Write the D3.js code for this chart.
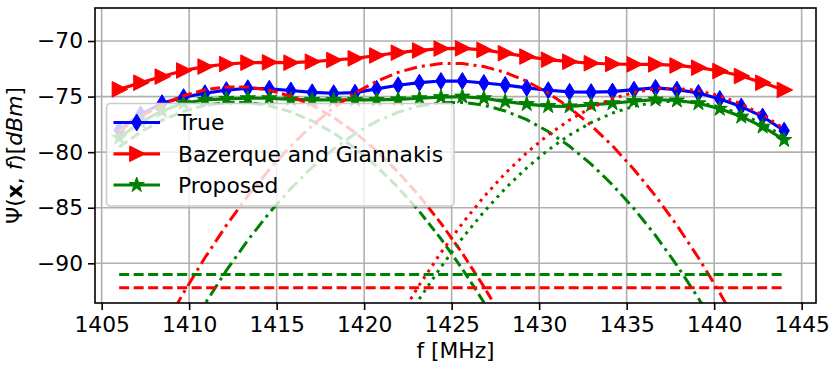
<!DOCTYPE html>
<html><head><meta charset="utf-8">
<script src="https://cdn.jsdelivr.net/npm/d3@7"></script>
<style>
html,body{margin:0;padding:0;background:#fff;}
svg{display:block;font-family:"DejaVu Sans",sans-serif;}
</style></head>
<body><svg id="chart" width="830" height="366"></svg>
<script>
// ---------- data ----------
const freq = [1406.00,1407.23,1408.45,1409.68,1410.90,1412.13,1413.35,1414.58,1415.81,1417.03,1418.26,1419.48,1420.71,1421.94,1423.16,1424.39,1425.61,1426.84,1428.06,1429.29,1430.52,1431.74,1432.97,1434.19,1435.42,1436.65,1437.87,1439.10,1440.32,1441.55,1442.77,1444.00];
const trueVals = [-78.0,-76.6,-75.6,-75.05,-74.7,-74.42,-74.25,-74.3,-74.45,-74.62,-74.7,-74.65,-74.3,-73.98,-73.75,-73.6,-73.6,-73.78,-73.96,-74.22,-74.43,-74.58,-74.6,-74.55,-74.38,-74.22,-74.38,-74.68,-75.22,-75.9,-76.8,-78.07];
const bazVals = [-74.35,-73.75,-73.2,-72.65,-72.3,-72.07,-71.95,-71.92,-71.95,-71.86,-71.71,-71.56,-71.3,-71.05,-70.85,-70.68,-70.66,-70.8,-71.1,-71.4,-71.68,-71.86,-72.0,-72.07,-72.1,-72.1,-72.2,-72.4,-72.7,-73.15,-73.75,-74.4];
const propVals = [-78.7,-77.3,-76.3,-75.6,-75.3,-75.2,-75.15,-75.15,-75.25,-75.3,-75.3,-75.3,-75.3,-75.25,-75.15,-75.05,-75.0,-75.15,-75.45,-75.67,-75.85,-75.88,-75.75,-75.6,-75.4,-75.27,-75.35,-75.6,-76.1,-76.8,-77.7,-78.9];
// components (null = outside the drawn range)
const bazComp1 = [-78.14,-76.79,-75.73,-74.92,-74.39,-74.13,-74.14,-74.42,-74.97,-75.79,-76.88,-78.24,-79.87,-81.78,-83.95,-86.4,-89.1,-92.1,-95.3,null,null,null,null,null,null,null,null,null,null,null,null,null];
const bazComp2 = [null,null,-96.1,-92.65,-89.5,-86.57,-83.94,-81.56,-79.43,-77.59,-76.0,-74.68,-73.62,-72.82,-72.30,-72.03,-72.03,-72.30,-72.82,-73.62,-74.68,-76.0,-77.59,-79.43,-81.56,-83.94,-86.57,-89.5,-92.65,-96.1,null,null];
const bazComp3 = [null,null,null,null,null,null,null,null,null,null,null,null,null,-95.07,-91.93,-89.03,-86.41,-84.02,-81.91,-80.05,-78.44,-77.10,-76.01,-75.19,-74.62,-74.31,-74.26,-74.47,-74.93,-75.66,-76.64,-77.88];
const propComp1 = [-79.54,-78.19,-77.13,-76.32,-75.79,-75.53,-75.54,-75.82,-76.37,-77.19,-78.28,-79.64,-81.27,-83.18,-85.35,-87.8,-90.5,-93.5,-96.7,null,null,null,null,null,null,null,null,null,null,null,null,null];
const propComp2 = [null,null,null,-96.9,-93.65,-90.64,-87.93,-85.46,-83.27,-81.36,-79.71,-78.34,-77.23,-76.4,-75.84,-75.55,-75.52,-75.77,-76.29,-77.08,-78.14,-79.47,-81.07,-82.94,-85.08,-87.5,-90.18,-93.14,-96.35,null,null,null];
const propComp3 = [null,null,null,null,null,null,null,null,null,null,null,null,null,-96.28,-93.19,-90.33,-87.73,-85.37,-83.27,-81.41,-79.80,-78.45,-77.34,-76.48,-75.87,-75.51,-75.40,-75.54,-75.93,-76.57,-77.45,-78.59];
const noiseFreq = [1406, 1444];
const propNoise = [-91.0, -91.0];
const bazNoise = [-92.2, -92.2];
const xTicks = [1405,1410,1415,1420,1425,1430,1435,1440,1445];
const yTicks = [-90,-85,-80,-75,-70];
const legendLabels = ["True","Bazerque and Giannakis","Proposed"];

// ---------- layout ----------
const L = 95, R = 816, T = 8, B = 303;
const svg = d3.select("#chart");
const x = d3.scaleLinear().domain([1404.62, 1445.82]).range([L, R]);
const y = d3.scaleLinear().domain([-93.57, -67.03]).range([B, T]);
const FS = 21.8;
const BLUE = "#0000ff", RED = "#ff0000", GREEN = "#008000";

svg.append("defs").append("clipPath").attr("id","clip")
  .append("rect").attr("x",L).attr("y",T).attr("width",R-L).attr("height",B-T);

// grid
const grid = svg.append("g");
grid.selectAll("line.vx").data(xTicks).join("line")
  .attr("x1",d=>x(d)).attr("x2",d=>x(d)).attr("y1",T).attr("y2",B)
  .attr("stroke","#b0b0b0").attr("stroke-width",1.6);
grid.selectAll("line.hy").data(yTicks).join("line")
  .attr("y1",d=>y(d)).attr("y2",d=>y(d)).attr("x1",L).attr("x2",R)
  .attr("stroke","#b0b0b0").attr("stroke-width",1.6);

// axes
const xAxis = svg.append("g").attr("transform",`translate(0,${B})`)
  .call(d3.axisBottom(x).tickValues(xTicks).tickSize(7).tickPadding(7).tickFormat(d3.format("d")));
const yAxis = svg.append("g").attr("transform",`translate(${L},0)`)
  .call(d3.axisLeft(y).tickValues(yTicks).tickSize(7).tickPadding(5).tickFormat(d3.format("d")));
[xAxis,yAxis].forEach(a=>{
  a.select(".domain").remove();
  a.selectAll(".tick line").attr("stroke","#000").attr("stroke-width",1.6);
  a.selectAll(".tick text").attr("fill","#000").style("font-size",FS+"px").style("font-family","DejaVu Sans");
});

const plot = svg.append("g").attr("clip-path","url(#clip)");
const lineGen = (xs, ys) => d3.line()
  .defined((d,i)=>ys[i]!==null)
  .x((d,i)=>x(xs[i])).y((d,i)=>y(ys[i]))(xs);

// marker paths
const diamond = "M0,-8.5L5.2,0L0,8.5L-5.2,0Z";
const triRight = "M-7,-7.8L8.5,0L-7,7.8Z";
function starPath(ro){
  const ri = ro*0.382; let p = "";
  for(let k=0;k<10;k++){
    const r = k%2===0?ro:ri; const a = -Math.PI/2 + k*Math.PI/5;
    p += (k===0?"M":"L") + (r*Math.cos(a)).toFixed(2) + "," + (r*Math.sin(a)).toFixed(2);
  }
  return p+"Z";
}
const star = starPath(8);

const mainSeries = [
  {vals: trueVals, color: BLUE, marker: diamond},
  {vals: bazVals, color: RED, marker: triRight},
  {vals: propVals, color: GREEN, marker: star}
];
mainSeries.forEach(s=>{
  plot.append("path").attr("d", lineGen(freq, s.vals)).attr("fill","none")
    .attr("stroke", s.color).attr("stroke-width",3.2).attr("stroke-linejoin","round");
  plot.selectAll(null).data(freq).join("path")
    .attr("d", s.marker).attr("transform",(d,i)=>`translate(${x(d)},${y(s.vals[i])})`)
    .attr("fill", s.color).attr("stroke", s.color).attr("stroke-width",1);
});

// component curves
const DASH = "10,4.5", DASHDOT = "13,5,3,5", DOT = "3,5";
const comps = [
  {vals: bazComp1, color: RED, dash: DASH},
  {vals: propComp1, color: GREEN, dash: DASH},
  {vals: bazComp2, color: RED, dash: DASHDOT},
  {vals: propComp2, color: GREEN, dash: DASHDOT},
  {vals: bazComp3, color: RED, dash: DOT},
  {vals: propComp3, color: GREEN, dash: DOT}
];
comps.forEach(c=>{
  plot.append("path").attr("d", lineGen(freq, c.vals)).attr("fill","none")
    .attr("stroke", c.color).attr("stroke-width",3).attr("stroke-dasharray", c.dash);
});
plot.append("path").attr("d", lineGen(noiseFreq, propNoise)).attr("fill","none")
  .attr("stroke", GREEN).attr("stroke-width",3).attr("stroke-dasharray", DASH);
plot.append("path").attr("d", lineGen(noiseFreq, bazNoise)).attr("fill","none")
  .attr("stroke", RED).attr("stroke-width",3).attr("stroke-dasharray", DASH);

// frame
svg.append("rect").attr("x",L).attr("y",T).attr("width",R-L).attr("height",B-T)
  .attr("fill","none").attr("stroke","#000").attr("stroke-width",1.6);

// legend
const lg = svg.append("g");
lg.append("rect").attr("x",106.5).attr("y",103.5).attr("width",347.5).attr("height",102.5)
  .attr("rx",4).attr("fill","#fff").attr("fill-opacity",0.8)
  .attr("stroke","#cccccc").attr("stroke-width",1.6);
const rowY = [122.5, 153.8, 185];
mainSeries.forEach((s,i)=>{
  lg.append("line").attr("x1",113.5).attr("x2",160).attr("y1",rowY[i]).attr("y2",rowY[i])
    .attr("stroke",s.color).attr("stroke-width",3.2);
  lg.append("path").attr("d",s.marker).attr("transform",`translate(136.7,${rowY[i]})`)
    .attr("fill",s.color).attr("stroke",s.color).attr("stroke-width",1);
  lg.append("text").attr("x",178).attr("y",rowY[i]).attr("dy","0.36em")
    .style("font-size",FS+"px").text(legendLabels[i]);
});

// axis labels
svg.append("text").attr("x",(L+R)/2).attr("y",358).attr("text-anchor","middle")
  .style("font-size",FS+"px").text("f [MHz]");
const yl = svg.append("text").attr("transform",`translate(22,${(T+B)/2}) rotate(-90)`)
  .attr("text-anchor","middle").style("font-size",FS+"px");
yl.append("tspan").text("Ψ(");
yl.append("tspan").attr("font-weight","bold").text("x");
yl.append("tspan").text(", ");
yl.append("tspan").attr("font-style","italic").text("f");
yl.append("tspan").text(")[");
yl.append("tspan").attr("font-style","italic").text("dBm");
yl.append("tspan").text("]");
</script>
</body></html>
